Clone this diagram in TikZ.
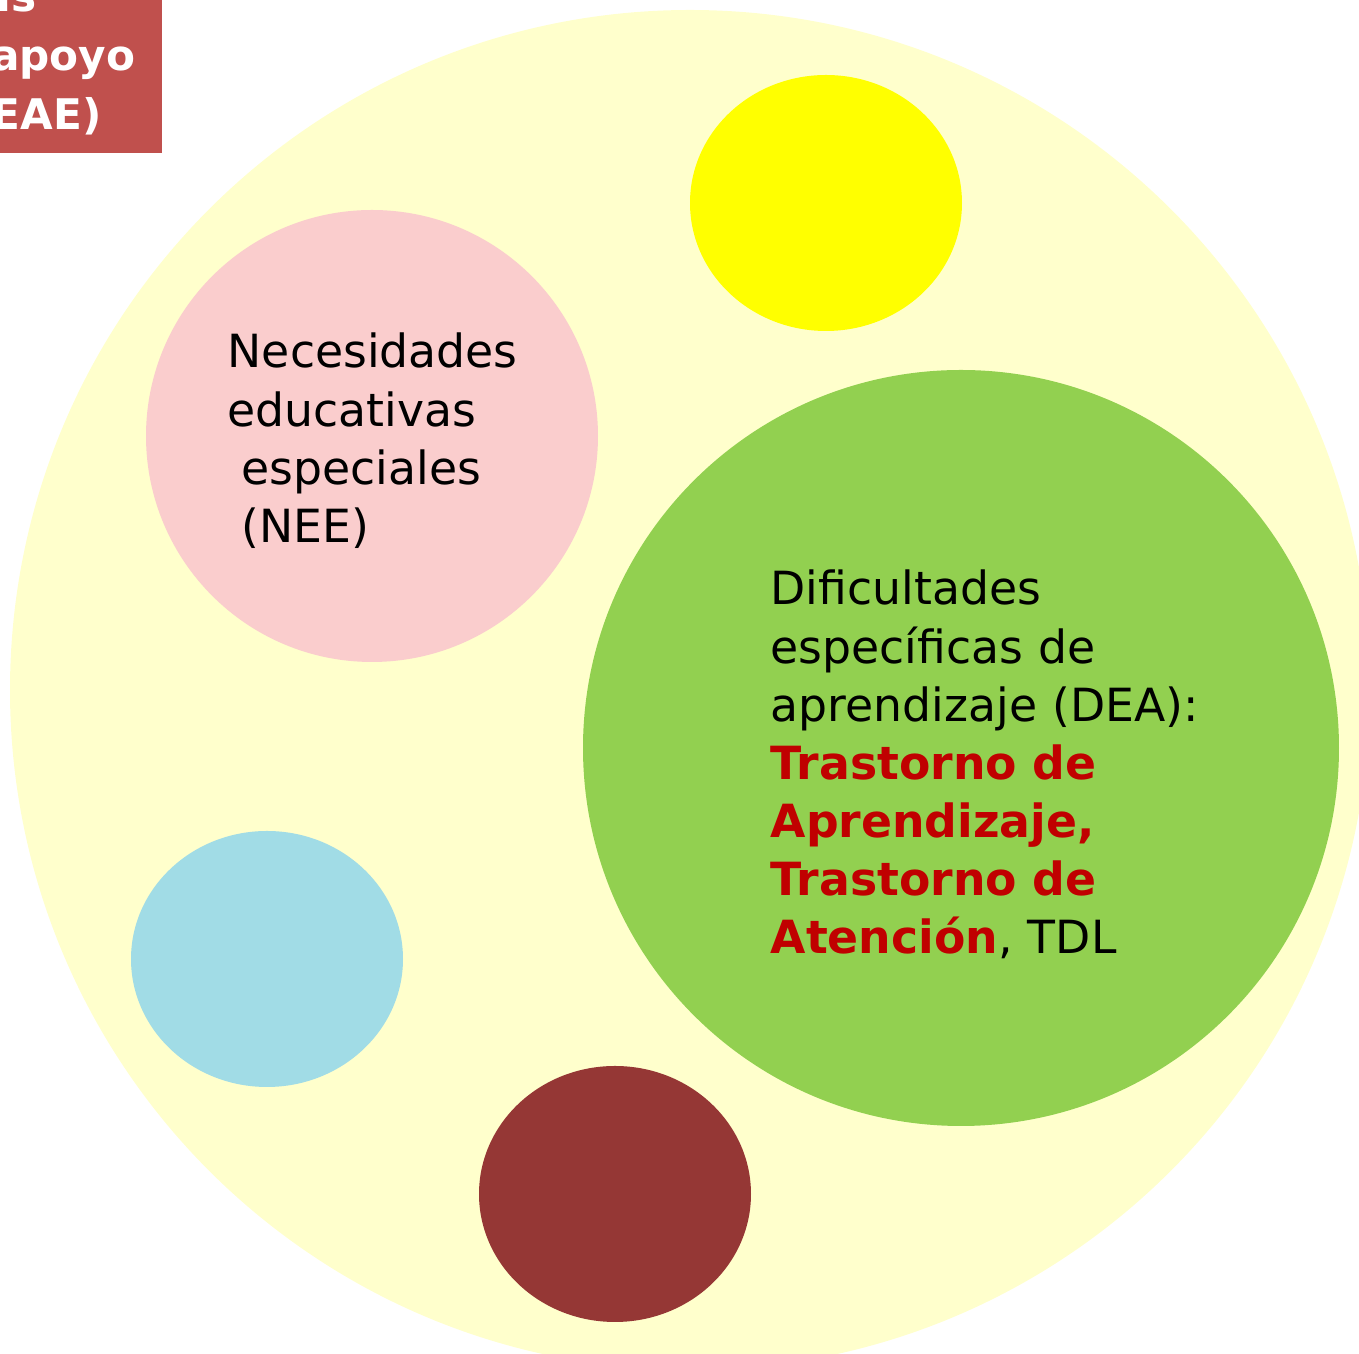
\documentclass[tikz,border=0pt]{standalone}
\usepackage{fontspec}
\setmainfont{DejaVu Sans}
\definecolor{fondo}{RGB}{255,255,204}
\definecolor{rosa}{RGB}{250,205,205}
\definecolor{amarillo}{RGB}{255,255,0}
\definecolor{verde}{RGB}{146,208,80}
\definecolor{celeste}{RGB}{161,220,230}
\definecolor{marron}{RGB}{149,55,53}
\definecolor{caja}{RGB}{192,80,77}
\definecolor{rojo}{RGB}{192,0,0}
\begin{document}
\begin{tikzpicture}[x=0.01cm,y=0.01cm,line join=round,line cap=round]
				\tikzset{texto/.style={inner sep=0pt,anchor=base west,align=left,font=\fontsize{13}{16.5}\selectfont},
					titulo/.style={inner sep=0pt,anchor=base east,text=white,font=\fontsize{12}{16.5}\selectfont\bfseries}}
				\useasboundingbox (0,0) rectangle (1359,1354);
				\begin{scope}
					\clip (0,0) rectangle (1359,1354);
					\fill[fondo] (690,664) circle (680);
					\fill[caja] (-300,1201) rectangle (162,1400);
					\node[titulo] (t1) at (37,1342) {específicas};
					\node[titulo] (t2) at (136,1283) {de apoyo};
					\node[titulo] (t3) at (102,1224) {(NEAE)};
				\end{scope}
				\fill[rosa] (372,918) circle (226);
				\fill[verde] (961,606) circle (378);
				\foreach \x/\y/\col in {826/1151/amarillo,267/395/celeste,615/160/marron}{
					\fill[\col] (\x,\y) ellipse (136 and 128);
				}
				\node[texto,text width=3.2cm] (nee) at (227,986) {Necesidades\\educativas\\\hspace{0.14cm}especiales\\\hspace{0.14cm}(NEE)};
				\node[texto,text width=4.8cm] (dea) at (770,749) {Dificultades\\específicas de\\aprendizaje (DEA):\\
					\textcolor{rojo}{\bfseries Trastorno de}\\\textcolor{rojo}{\bfseries Aprendizaje,}\\
					\textcolor{rojo}{\bfseries Trastorno de}\\\textcolor{rojo}{\bfseries Atención}, TDL};
			\end{tikzpicture}
\end{document}
